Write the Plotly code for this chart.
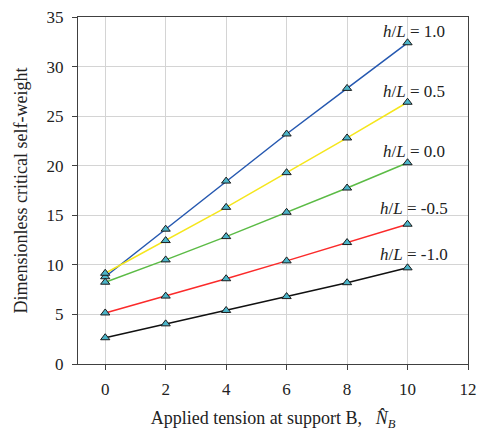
import plotly.graph_objects as go

x_vals = [0, 2, 4, 6, 8, 10]
hL_labels = ["1.0", "0.5", "0.0", "-0.5", "-1.0"]
y_hl_p10 = [8.8, 13.6, 18.45, 23.2, 27.8, 32.4]
y_hl_p05 = [9.15, 12.45, 15.8, 19.3, 22.8, 26.4]
y_hl_00 = [8.25, 10.5, 12.85, 15.3, 17.75, 20.3]
y_hl_m05 = [5.15, 6.85, 8.6, 10.4, 12.25, 14.1]
y_hl_m10 = [2.65, 4.05, 5.4, 6.8, 8.2, 9.7]
series = [y_hl_p10, y_hl_p05, y_hl_00, y_hl_m05, y_hl_m10]
colors = ["#2558b0", "#f5e61c", "#5bbb45", "#fb2a2a", "#111111"]
label_y = [33.5, 27.45, 21.4, 15.65, 11.0]

font_family = "Liberation Serif, Times New Roman, serif"
txt = "#222222"

fig = go.Figure()
for ys, c in zip(series, colors):
    fig.add_trace(go.Scatter(
        x=x_vals, y=ys, mode="lines+markers",
        line=dict(color=c, width=1.5),
        marker=dict(symbol="triangle-up", size=8, color="#4bb4c8",
                    line=dict(color="#1a1a1a", width=1)),
        showlegend=False))

for lab, ly in zip(hL_labels, label_y):
    fig.add_annotation(x=10.2, y=ly, text="<i>h</i>/<i>L</i> = " + lab,
                       showarrow=False, font=dict(size=17, color=txt, family=font_family))

axis_common = dict(showline=True, linecolor="#404040", linewidth=1, mirror=True,
                   gridcolor="#d4d4d4", gridwidth=1, zeroline=False,
                   ticks="outside", ticklen=5, tickcolor="#404040", automargin=False,
                   tickfont=dict(size=17, color=txt, family=font_family))

fig.update_xaxes(range=[-0.9, 12], tickvals=[0, 2, 4, 6, 8, 10, 12], **axis_common,
                 ticklabelstandoff=5,
                 title=dict(text="Applied tension at support B,   <i>N\u0302</i><sub><i>B</i></sub>",
                            font=dict(size=18, color=txt, family=font_family), standoff=17))
fig.update_yaxes(range=[0, 35], tickvals=[0, 5, 10, 15, 20, 25, 30, 35], **axis_common,
                 ticklabelstandoff=5,
                 title=dict(text="Dimensionless critical self-weight",
                            font=dict(size=18, color=txt, family=font_family), standoff=14))

fig.update_layout(width=478, height=431, margin=dict(l=78, r=10, t=17, b=67),
                  plot_bgcolor="white", paper_bgcolor="white")

fig.write_html("out.html")
